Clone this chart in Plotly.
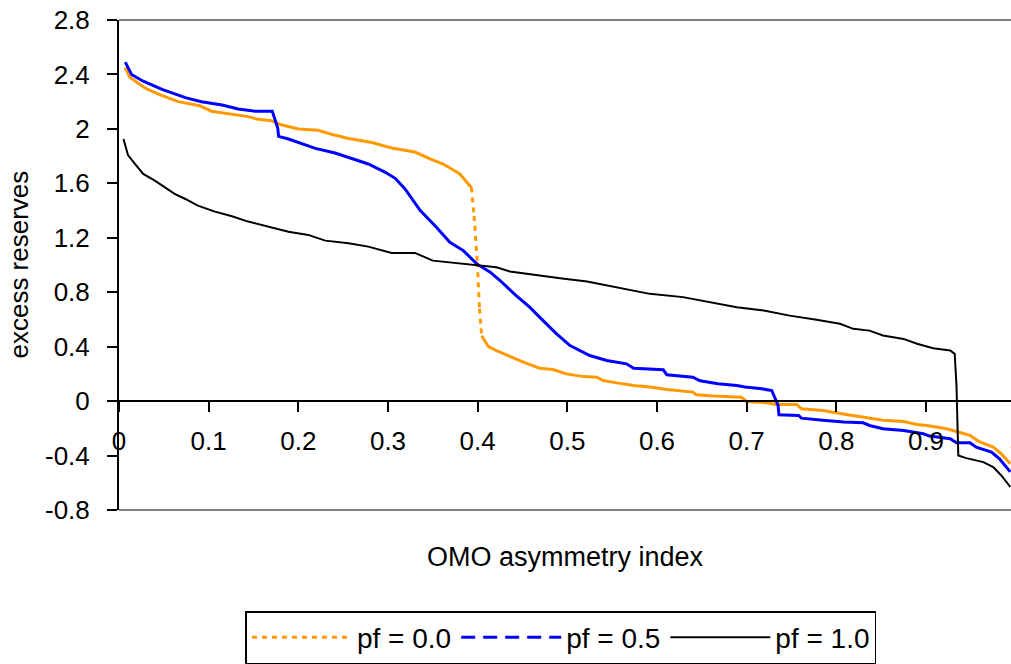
import plotly.graph_objects as go

# OMO asymmetry index (x) vs excess reserves (y) for three pf settings
x_pf00 = [0.007, 0.012, 0.029, 0.046, 0.066, 0.090, 0.103, 0.122, 0.144, 0.155,
          0.170, 0.181, 0.200, 0.222, 0.237, 0.256, 0.282, 0.304, 0.330, 0.347,
          0.362, 0.380, 0.393, 0.396, 0.3996, 0.402, 0.4045, 0.412, 0.421, 0.451,
          0.469, 0.484, 0.499, 0.518, 0.533, 0.540, 0.555, 0.574, 0.592, 0.611,
          0.640, 0.644, 0.663, 0.694, 0.700, 0.722, 0.733, 0.756, 0.761, 0.785,
          0.811, 0.837, 0.852, 0.875, 0.890, 0.901, 0.923, 0.934, 0.949, 0.960,
          0.975, 0.984, 0.994]
y_pf00 = [2.45, 2.38, 2.30, 2.25, 2.20, 2.17, 2.13, 2.11, 2.09, 2.07,
          2.06, 2.03, 2.00, 1.99, 1.96, 1.93, 1.90, 1.86, 1.83, 1.78,
          1.74, 1.67, 1.57, 1.36, 1.02, 0.68, 0.48, 0.40, 0.37, 0.286,
          0.242, 0.232, 0.20, 0.18, 0.176, 0.151, 0.134, 0.115, 0.103, 0.085,
          0.066, 0.046, 0.037, 0.029, -0.003, -0.012, -0.025, -0.025, -0.057, -0.069,
          -0.098, -0.125, -0.14, -0.15, -0.172, -0.179, -0.203, -0.223, -0.252, -0.30,
          -0.338, -0.387, -0.46]

x_pf05 = [0.007, 0.014, 0.027, 0.048, 0.074, 0.092, 0.115, 0.133, 0.152, 0.171,
          0.177, 0.178, 0.189, 0.204, 0.219, 0.241, 0.260, 0.278, 0.297, 0.308,
          0.319, 0.330, 0.336, 0.354, 0.369, 0.384, 0.399, 0.414, 0.425, 0.442,
          0.458, 0.469, 0.488, 0.503, 0.525, 0.544, 0.566, 0.574, 0.607, 0.611,
          0.640, 0.648, 0.668, 0.689, 0.698, 0.717, 0.728, 0.735, 0.736, 0.758,
          0.761, 0.785, 0.808, 0.830, 0.837, 0.852, 0.875, 0.897, 0.904, 0.927,
          0.934, 0.949, 0.956, 0.973, 0.982, 0.994]
y_pf05 = [2.49, 2.40, 2.35, 2.29, 2.23, 2.20, 2.175, 2.146, 2.13, 2.13,
          2.007, 1.945, 1.926, 1.894, 1.857, 1.823, 1.779, 1.742, 1.681, 1.637,
          1.559, 1.461, 1.40, 1.278, 1.167, 1.106, 1.008, 0.947, 0.886, 0.78,
          0.69, 0.617, 0.494, 0.408, 0.335, 0.298, 0.274, 0.242, 0.23, 0.193,
          0.176, 0.149, 0.127, 0.115, 0.103, 0.09, 0.078, -0.032, -0.10, -0.106,
          -0.125, -0.14, -0.154, -0.159, -0.179, -0.203, -0.216, -0.24, -0.257, -0.277,
          -0.306, -0.306, -0.338, -0.374, -0.424, -0.52]

x_pf10 = [0.005, 0.010, 0.018, 0.027, 0.040, 0.051, 0.062, 0.074, 0.088, 0.107,
          0.126, 0.144, 0.166, 0.189, 0.211, 0.230, 0.256, 0.278, 0.304, 0.330,
          0.350, 0.388, 0.421, 0.436, 0.462, 0.492, 0.522, 0.544, 0.566, 0.592,
          0.629, 0.659, 0.689, 0.719, 0.748, 0.778, 0.804, 0.819, 0.837, 0.852,
          0.875, 0.890, 0.908, 0.927, 0.932, 0.934, 0.936, 0.945, 0.964, 0.975,
          0.984, 0.994]
y_pf10 = [1.926, 1.808, 1.742, 1.669, 1.62, 1.571, 1.522, 1.485, 1.436, 1.392,
          1.358, 1.319, 1.285, 1.245, 1.221, 1.179, 1.16, 1.135, 1.089, 1.089,
          1.032, 1.008, 0.984, 0.952, 0.927, 0.903, 0.878, 0.849, 0.819, 0.788,
          0.764, 0.727, 0.69, 0.665, 0.628, 0.597, 0.568, 0.531, 0.518, 0.482,
          0.457, 0.421, 0.389, 0.372, 0.347, 0.115, -0.40, -0.419, -0.448, -0.485,
          -0.546, -0.63]

series_names = ["pf = 0.0", "pf = 0.5", "pf = 1.0"]
x_tick_vals = [0, 0.1, 0.2, 0.3, 0.4, 0.5, 0.6, 0.7, 0.8, 0.9]
x_tick_text = ["0", "0.1", "0.2", "0.3", "0.4", "0.5", "0.6", "0.7", "0.8", "0.9"]
y_tick_vals = [-0.8, -0.4, 0, 0.4, 0.8, 1.2, 1.6, 2.0, 2.4, 2.8]
y_tick_text = ["-0.8", "-0.4", "0", "0.4", "0.8", "1.2", "1.6", "2", "2.4", "2.8"]

FONT = "Liberation Sans, Arial, sans-serif"
FS = 26
Y_MIN, Y_MAX = -0.8, 2.8
X_MAX = 0.9948


def split_runs(xs, ys, jump):
    """Short steps form continuous runs; big vertical jumps are returned separately
    so that each one starts its own dash pattern."""
    run_x, run_y = [xs[0]], [ys[0]]
    jump_x, jump_y = [], []
    for i in range(len(xs) - 1):
        if jump is not None and abs(ys[i + 1] - ys[i]) > jump:
            jump_x += [xs[i], xs[i + 1], None]
            jump_y += [ys[i], ys[i + 1], None]
            run_x += [None, xs[i + 1]]
            run_y += [None, ys[i + 1]]
        else:
            run_x.append(xs[i + 1])
            run_y.append(ys[i + 1])
    return run_x, run_y, jump_x, jump_y


styles = [
    dict(x=x_pf00, y=y_pf00, color="#FF9900", width=3, dash="5px,5px", jump=0.15),
    dict(x=x_pf05, y=y_pf05, color="#0000FF", width=3, dash="14px,8px", jump=None),
    dict(x=x_pf10, y=y_pf10, color="#000000", width=2, dash="solid", jump=None),
]

fig = go.Figure()
for name, s in zip(series_names, styles):
    rx, ry, jx, jy = split_runs(s["x"], s["y"], s["jump"])
    fig.add_trace(go.Scatter(x=rx, y=ry, mode="lines", showlegend=False,
                             line=dict(color=s["color"], width=s["width"]),
                             hoverinfo="skip"))
    if jx:
        fig.add_trace(go.Scatter(x=jx, y=jy, mode="lines", showlegend=False,
                                 line=dict(color=s["color"], width=s["width"], dash=s["dash"]),
                                 hoverinfo="skip"))
# legend entries
for name, s in zip(series_names, styles):
    fig.add_trace(go.Scatter(x=[None], y=[None], mode="lines", name=name,
                             line=dict(color=s["color"], width=s["width"], dash=s["dash"])))

zero_pos = (0 - Y_MIN) / (Y_MAX - Y_MIN)

fig.update_layout(
    width=1011, height=664,
    margin=dict(l=119, r=0, t=20, b=153),
    paper_bgcolor="white", plot_bgcolor="white",
    font=dict(family=FONT, size=FS, color="black"),
    xaxis=dict(range=[0, X_MAX], anchor="free", position=zero_pos,
               tickvals=x_tick_vals, ticktext=x_tick_text,
               showgrid=False, zeroline=False, showline=True,
               linecolor="black", linewidth=2,
               ticks="outside", ticklen=10, tickwidth=2, tickcolor="black",
               ticklabelstandoff=7),
    yaxis=dict(range=[Y_MIN, Y_MAX], tickvals=y_tick_vals, ticktext=y_tick_text,
               showgrid=False, zeroline=False, showline=True,
               linecolor="black", linewidth=2,
               ticks="outside", ticklen=10, tickwidth=2, tickcolor="black",
               ticklabelstandoff=12),
    legend=dict(orientation="h", x=0.4955, xanchor="center", y=-0.2057, yanchor="top",
                bordercolor="black", borderwidth=1.5, bgcolor="white",
                font=dict(family=FONT, size=28), itemwidth=100, tracegroupgap=0),
    shapes=[
        dict(type="line", xref="paper", yref="paper", x0=0, x1=1, y0=1, y1=1,
             line=dict(color="#808080", width=2)),
        dict(type="line", xref="paper", yref="paper", x0=0, x1=1, y0=0, y1=0,
             line=dict(color="#808080", width=2)),
    ],
    annotations=[
        dict(text="excess reserves", xref="paper", yref="paper",
             x=-0.1132, y=0.501, textangle=-90, showarrow=False,
             xanchor="center", yanchor="middle", font=dict(size=FS)),
        dict(text="OMO asymmetry index", xref="paper", yref="paper",
             x=0.5011, y=-0.0957, showarrow=False,
             xanchor="center", yanchor="middle", font=dict(size=27)),
        dict(text="1", xref="paper", yref="y", x=(1 / X_MAX), y=0,
             yshift=-38, showarrow=False, xanchor="center", yanchor="middle",
             font=dict(size=FS)),
    ],
)

fig.write_html("out.html")
